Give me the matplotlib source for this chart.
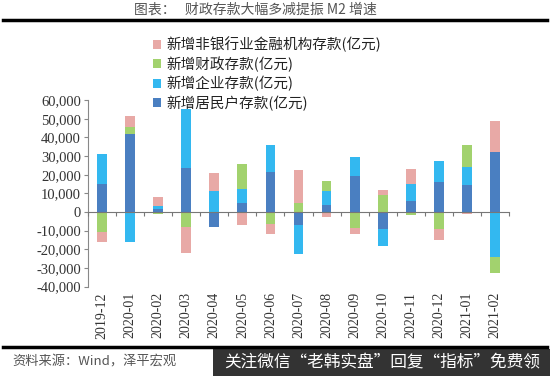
import numpy as np
import matplotlib
matplotlib.use("Agg")
import matplotlib.pyplot as plt
from matplotlib.patches import Rectangle

plt.rcParams['font.family'] = ['Noto Sans CJK SC', 'DejaVu Sans']

# 数据 (亿元)
months = ["2019-12", "2020-01", "2020-02", "2020-03", "2020-04", "2020-05", "2020-06",
          "2020-07", "2020-08", "2020-09", "2020-10", "2020-11", "2020-12", "2021-01", "2021-02"]
household = [15000, 41900, 1500, 23500, -8000, 4600, 21500, -7000, 3600, 19200, -9100, 6100, 16300, 14500, 32300]
enterprise = [16100, -16100, 1500, 31900, 11500, 7900, 14500, -15600, 7700, 10400, -9100, 8800, 11300, 9500, -24000]
fiscal = [-10800, 3900, -1200, -7900, 0, 13400, -6300, 4600, 5400, -8400, 9100, -1800, -9100, 11800, -9000]
nonbank = [-5500, 5900, 4800, -14000, 9300, -6800, -5500, 17900, -2500, -3200, 2900, 8400, -6100, -900, 16300]

series = [
    ("新增居民户存款(亿元)", household, "#4A7FC1"),
    ("新增企业存款(亿元)", enterprise, "#33B8F0"),
    ("新增财政存款(亿元)", fiscal, "#A2D26E"),
    ("新增非银行业金融机构存款(亿元)", nonbank, "#E8A9A6"),
]

fig = plt.figure(figsize=(5.5, 3.76), dpi=100)
ax = fig.add_axes([0.16, 0.238, 0.7655, 0.4955])

x = np.arange(len(months))
pos_bottom = np.zeros(len(months))
neg_bottom = np.zeros(len(months))
handles = []
for name, vals, color in series:
    v = np.array(vals, dtype=float)
    bottom = np.where(v >= 0, pos_bottom, neg_bottom)
    b = ax.bar(x, v, width=0.35, bottom=bottom, color=color, label=name, zorder=2)
    handles.append(b)
    pos_bottom += np.where(v > 0, v, 0)
    neg_bottom += np.where(v < 0, v, 0)

ax.set_xlim(-0.5, len(months) - 0.5)
ax.set_ylim(-40000, 60000)
ax.set_yticks(np.arange(-40000, 60001, 10000))
ax.yaxis.set_major_formatter(matplotlib.ticker.FuncFormatter(lambda v, p: f"{int(v):,}"))
for lab in ax.get_yticklabels():
    lab.set_fontfamily('Liberation Serif')
    lab.set_fontsize(10.5)
    lab.set_color('#333333')
ax.tick_params(axis='y', length=3, color='#888888', pad=2)

ax.set_xticks(x)
ax.set_xticklabels(months, rotation=90, fontfamily='Liberation Serif', fontsize=10, color='#333333')
ax.tick_params(axis='x', length=0, pad=4)

for s in ['top', 'right', 'bottom']:
    ax.spines[s].set_visible(False)
ax.spines['left'].set_color('#888888')

# 零轴及分隔刻度
zero_ax = ax.secondary_xaxis(0.4)
zero_ax.set_xticks(np.arange(-0.5, len(months), 1.0))
zero_ax.set_xticklabels([])
zero_ax.tick_params(length=3, color='#777777', direction='out')
zero_ax.spines['bottom'].set_color('#777777')
zero_ax.set_zorder(3)

fig.legend(handles[::-1], [s[0] for s in series][::-1], loc='upper left',
           bbox_to_anchor=(0.268, 0.918), frameon=False, fontsize=10.5,
           handlelength=0.55, handleheight=0.55, handletextpad=0.35,
           labelspacing=0.28, borderaxespad=0, labelcolor='#222222')

# 标题与分隔线
fig.text(0.465, 0.975, "图表：   财政存款大幅多减提振 M2 增速", ha='center', va='center',
         fontsize=10, color='#555555')
fig.add_artist(plt.Line2D([0.006, 0.994], [0.948, 0.948], color='black', lw=2.5))
fig.add_artist(plt.Line2D([0.006, 0.994], [0.077, 0.077], color='black', lw=2.5))
fig.text(0.022, 0.038, "资料来源：Wind，泽平宏观", ha='left', va='center',
         fontsize=9.5, color='#555555', style='italic')

# 水印
fig.add_artist(Rectangle((0.388, 0.0), 0.612, 0.072, transform=fig.transFigure,
                         facecolor='#333333', edgecolor='none'))
fig.text(0.695, 0.036, "关注微信“老韩实盘”回复“指标”免费领", ha='center', va='center',
         fontsize=12, color='white')

fig.savefig("out.png", dpi=100)
